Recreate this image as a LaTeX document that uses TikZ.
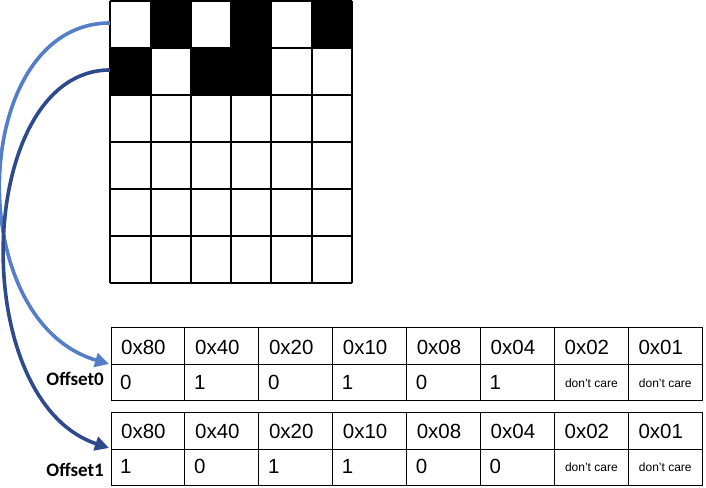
\documentclass[tikz,border=0pt]{standalone}
\usepackage{fontspec}
\setmainfont{Liberation Sans}
\newfontfamily\calib{Carlito}
\usetikzlibrary{arrows.meta}
\definecolor{lightarrow}{RGB}{84,126,200}
\definecolor{darkarrow}{RGB}{44,74,140}
\tikzset{
  gridline/.style={line width=1.3pt, black},
  tabline/.style={line width=1pt, black},
  hexlbl/.style={anchor=base west, inner sep=0pt, font=\fontsize{20.5}{22}\selectfont},
  bitlbl/.style={anchor=base west, inner sep=0pt, font=\fontsize{20.5}{22}\selectfont},
  dclbl/.style={anchor=base, inner sep=0pt, font=\fontsize{12}{13}\selectfont},
  offlbl/.style={anchor=base east, inner sep=0pt, font=\calib\bfseries\fontsize{19}{20}\selectfont},
  conn/.style={line width=3.6pt, -{Triangle[length=14pt,width=14pt]}},
}
\begin{document}
\begin{tikzpicture}[x=1pt,y=-1pt]
\useasboundingbox (0,0) rectangle (706,487);
% ---- pixel grid ----
\def\gx{{110,151,191,231,271,312,352}}
\def\gy{{1,48,95,142,189,236,283}}
% black cells
\fill (151,1) rectangle (191,48);
\fill (231,1) rectangle (271,48);
\fill (312,1) rectangle (352,48);
\fill (110,48) rectangle (151,95);
\fill (191,48) rectangle (271,95);
\foreach \x in {110,151,191,231,271,312,352} \draw[gridline] (\x,1) -- (\x,283);
\foreach \y in {1,48,95,142,189,236,283} \draw[gridline] (110,\y) -- (352,\y);
\coordinate (row0) at (110,23);
\coordinate (row1) at (110,70);
% ---- tables ----
\def\cw{73.9}
\foreach \t/\top in {0/327,1/412}{
  \draw[tabline] (111,\top) rectangle (702,\top+73);
  \draw[tabline] (111,\top+37) -- (702,\top+37);
  \foreach \i in {1,...,7} \draw[tabline] (111+\i*\cw,\top) -- (111+\i*\cw,\top+73);
}
\coordinate (tab0) at (109,364);
\coordinate (tab1) at (109,448);
\foreach \h [count=\i from 0] in {0x80,0x40,0x20,0x10,0x08,0x04,0x02,0x01}{
  \node[hexlbl] (hA\i) at (111+\i*\cw+10,354) {\h};
  \node[hexlbl] (hB\i) at (111+\i*\cw+10,438.5) {\h};
}
\foreach \v [count=\i from 0] in {0,1,0,1,0,1}{
  \node[bitlbl] (vA\i) at (111+\i*\cw+9,389.5) {\v};
}
\foreach \v [count=\i from 0] in {1,0,1,1,0,0}{
  \node[bitlbl] (vB\i) at (111+\i*\cw+9,473.5) {\v};
}
\node[dclbl] (dA6) at (111+6.5*\cw,387) {don't care};
\node[dclbl] (dA7) at (111+7.5*\cw,387) {don't care};
\node[dclbl] (dB6) at (111+6.5*\cw,471) {don't care};
\node[dclbl] (dB7) at (111+7.5*\cw,471) {don't care};
\node[offlbl] (off0) at (104,385.5) {Offset0};
\node[offlbl] (off1) at (104,476) {Offset1};
% ---- arrows ----
\draw[conn, lightarrow] (row0) .. controls (-30,23) and (-40,320) .. (tab0);
\draw[conn, darkarrow] (row1) .. controls (-25,70) and (-35,400) .. (tab1);
\end{tikzpicture}
\end{document}
